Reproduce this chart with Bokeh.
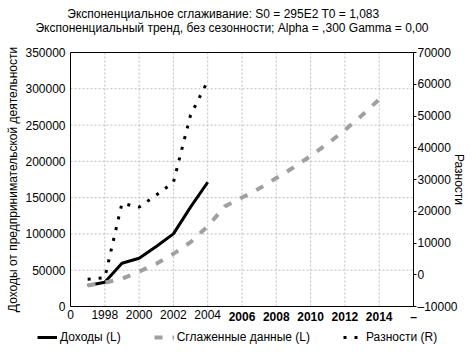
from bokeh.plotting import figure
from bokeh.models import (Range1d, LinearAxis, FixedTicker, Legend, LegendItem,
                          NumeralTickFormatter)
from bokeh.core.properties import value
from bokeh.embed import file_html
from bokeh.resources import INLINE

# ---- data ----
years_income = [1997, 1998, 1999, 2000, 2001, 2002, 2003, 2004]
income = [28900, 33500, 59600, 66500, 82600, 100100, 137000, 171200]

years_smooth = [1997, 1998, 1999, 2000, 2001, 2002, 2003, 2004, 2005,
                2006, 2007, 2008, 2009, 2010, 2011, 2012, 2013, 2014]
smoothed = [29000, 33000, 38100, 48200, 58800, 72600, 88600, 110600, 138000,
            150100, 162500, 177000, 191500, 207300, 224500, 243000, 263500, 285500]

years_resid = [1997, 1998, 1999, 2000, 2001, 2002, 2003, 2004]
residuals = [-1400, -900, 22500, 21300, 25100, 29100, 50300, 61000]

x_ticks = [1996, 1998, 2000, 2002, 2004, 2006, 2008, 2010, 2012, 2014, 2016]
x_tick_labels = ["0", "1998", "2000", "2002", "2004", "2006", "2008", "2010",
                 "2012", "2014", "\u2013"]
bold_ticks = [2006, 2008, 2010, 2012, 2014, 2016]
left_ticks = [0, 50000, 100000, 150000, 200000, 250000, 300000, 350000]
right_ticks = [-10000, 0, 10000, 20000, 30000, 40000, 50000, 60000, 70000]

title_lines = ["Экспоненциальное сглаживание:  S0 = 295E2 T0 = 1,083",
               "Экспоненциальный тренд, без сезонности; Alpha = ,300 Gamma = 0,00"]
left_label = "Доходы от предпринимательской деятельности"
right_label = "Разности"
legend_labels = ["Доходы (L)", "Сглаженные данные (L)", "Разности (R)"]

# ---- layout constants (pixels) ----
FONT = "Liberation Sans"
W, H = 476, 356
FL, FR, FT, FB = 70, 413, 52, 306          # plot-area box inside the canvas
X0, X1 = x_ticks[0], x_ticks[-1]
Y0, Y1 = left_ticks[0], left_ticks[-1]
R0, R1 = right_ticks[0], right_ticks[-1]

dx = (X1 - X0) / (FR - FL)
dy = (Y1 - Y0) / (FB - FT)
dr = (R1 - R0) / (FB - FT)

p = figure(width=W, height=H, output_backend="svg", toolbar_location=None,
           x_range=Range1d(X0 - FL * dx, X1 + (W - FR) * dx),
           y_range=Range1d(Y0 - (H - FB) * dy, Y1 + FT * dy),
           x_axis_type=None, y_axis_type=None, min_border=0)
p.extra_y_ranges = {"right": Range1d(R0 - (H - FB) * dr, R1 + FT * dr)}
p.outline_line_color = None
p.background_fill_color = "white"
p.border_fill_color = "white"


def px_to_x(px):
    return X0 + (px - FL) * dx


def py_to_y(py):
    return Y0 + (FB - py) * dy


# ---- grid ----
GRID = dict(line_color="#bdbdbd", line_width=1, line_dash="2 2")
p.segment(x0=x_ticks, y0=[Y0] * len(x_ticks), x1=x_ticks, y1=[Y1] * len(x_ticks), **GRID)
p.segment(x0=[X0] * len(left_ticks), y0=left_ticks, x1=[X1] * len(left_ticks),
          y1=left_ticks, **GRID)

# ---- series ----
INC = dict(line_color="black", line_width=3)
SM = dict(line_color="#a0a0a0", line_width=4, line_dash="8 10")
RES = dict(line_color="black", line_width=3, line_dash="3 8")
r_inc = p.line(years_income, income, **INC)
r_sm = p.line(years_smooth, smoothed, **SM)
r_res = p.line(years_resid, residuals, y_range_name="right", **RES)


# ---- axes (fixed at the plot-area edges) ----
def style_common(ax):
    ax.minor_tick_line_color = None
    ax.major_tick_in = 0
    ax.major_label_text_font = FONT
    ax.major_label_text_font_size = "12px"
    ax.major_label_text_color = "black"
    ax.axis_label_text_font = FONT
    ax.axis_label_text_font_size = "12px"
    ax.axis_label_text_font_style = "normal"
    ax.axis_label_text_color = "black"
    ax.axis_line_color = "black"
    ax.major_tick_line_color = "black"


normal_ticks = [t for t in x_ticks if t not in bold_ticks]
normal_over = {t: lab for t, lab in zip(x_ticks, x_tick_labels) if t not in bold_ticks}
bold_over = {t: lab for t, lab in zip(x_ticks, x_tick_labels) if t in bold_ticks}

xa = LinearAxis(ticker=FixedTicker(ticks=normal_ticks), fixed_location=Y0,
                bounds=(X0, X1))
style_common(xa)
xa.major_label_overrides = normal_over
xa.major_tick_out = 0
xa.major_label_standoff = 3
p.add_layout(xa, "below")

xb = LinearAxis(ticker=FixedTicker(ticks=bold_ticks), fixed_location=Y0,
                bounds=(X0, X1))
style_common(xb)
xb.major_label_overrides = bold_over
xb.major_label_text_font_style = "bold"
xb.major_tick_out = 0
xb.major_label_standoff = 3
xb.axis_line_color = None
p.add_layout(xb, "below")

xt = LinearAxis(ticker=FixedTicker(ticks=[]), fixed_location=Y1, bounds=(X0, X1))
style_common(xt)
xt.major_tick_out = 0
p.add_layout(xt, "above")

ya = LinearAxis(ticker=FixedTicker(ticks=left_ticks), fixed_location=X0,
                bounds=(Y0, Y1), formatter=NumeralTickFormatter(format="0"))
style_common(ya)
ya.major_tick_out = 0
ya.major_label_standoff = 5
ya.axis_label = left_label
ya.axis_label_standoff = 2
p.add_layout(ya, "left")

ra = LinearAxis(y_range_name="right", ticker=FixedTicker(ticks=right_ticks),
                fixed_location=X1, bounds=(R0, R1),
                formatter=NumeralTickFormatter(format="0"))
style_common(ra)
ra.major_label_overrides = {R0: "\u2013" + str(abs(R0))}
ra.major_tick_out = 3
ra.major_label_standoff = 1
ra.axis_label = right_label
ra.axis_label_standoff = -9
p.add_layout(ra, "right")

# ---- titles ----
p.text(x=[px_to_x(224.5), px_to_x(231.5)], y=[py_to_y(13), py_to_y(27)],
       text=title_lines, text_font=value(FONT), text_font_size="12px",
       text_align="center", text_baseline="middle", text_color="black")

# ---- legend ----
legend = Legend(items=[LegendItem(label=legend_labels[0], renderers=[r_inc]),
                       LegendItem(label=legend_labels[1], renderers=[r_sm]),
                       LegendItem(label=legend_labels[2], renderers=[r_res])],
                orientation="horizontal", location=(37, 11), padding=0,
                margin=0, spacing=33, glyph_width=20, glyph_height=12,
                label_height=16, label_standoff=3, label_text_font=FONT,
                label_text_font_size="12px", label_text_color="black",
                border_line_color=None, background_fill_alpha=0)
p.add_layout(legend, "center")

open("out.html", "w").write(file_html(p, INLINE))
